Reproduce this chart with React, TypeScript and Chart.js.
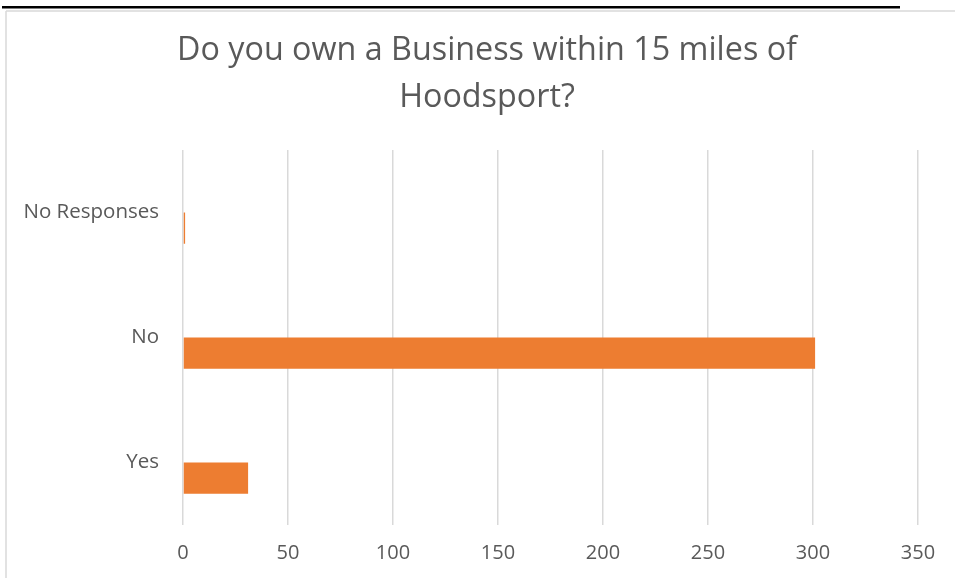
import React, { useEffect, useRef } from "react";
import { Chart, registerables } from "chart.js";

Chart.register(...registerables);

const categories = ["No Responses", "No", "Yes"];
const responses = [1, 301, 31];
const emptySeries = [null, null, null];
const xTicks = [0, 50, 100, 150, 200, 250, 300, 350];
const titleLines = ["Do you own a Business within 15 miles of", "Hoodsport?"];

const FONT = "'Open Sans', 'Noto Sans', sans-serif";
const TEXT = "#595959";

const framePlugin = {
  id: "frame",
  beforeDraw(chart: any) {
    const ctx = chart.ctx;
    ctx.save();
    ctx.fillStyle = "#ffffff";
    ctx.fillRect(0, 0, chart.width, chart.height);
    ctx.strokeStyle = "#d9d9d9";
    ctx.lineWidth = 1.5;
    ctx.beginPath();
    ctx.moveTo(6, 11);
    ctx.lineTo(chart.width, 11);
    ctx.moveTo(6, 11);
    ctx.lineTo(6, chart.height);
    ctx.stroke();
    ctx.fillStyle = "#000000";
    ctx.fillRect(2, 6, 898, 2.5);
    ctx.restore();
  },
  afterDraw(chart: any) {
    const ctx = chart.ctx;
    ctx.save();
    ctx.fillStyle = TEXT;
    ctx.font = `32.3px ${FONT}`;
    ctx.textAlign = "center";
    ctx.textBaseline = "middle";
    const ys = [51, 98];
    titleLines.forEach((t, i) => ctx.fillText(t, 487, ys[i]));
    ctx.restore();
  },
};

export default function App() {
  const ref = useRef<HTMLCanvasElement | null>(null);
  useEffect(() => {
    if (!ref.current) return;
    const chart = new Chart(ref.current, {
      type: "bar",
      data: {
        labels: categories,
        datasets: [
          { label: "blank", data: emptySeries as any, backgroundColor: "#ED7D31" },
          { label: "Responses", data: responses, backgroundColor: "#ED7D31" },
        ],
      },
      options: {
        indexAxis: "y",
        animation: false,
        responsive: false,
        maintainAspectRatio: false,
        layout: { padding: { left: 0, right: 37, top: 150, bottom: 0 } },
        datasets: { bar: { categoryPercentage: 0.5, barPercentage: 1 } } as any,
        plugins: {
          legend: { display: false },
          tooltip: { enabled: false },
          title: { display: false },
        },
        scales: {
          x: {
            min: 0,
            max: 350,
            ticks: {
              stepSize: 50,
              color: TEXT,
              font: { family: FONT, size: 20 },
              padding: 16,
              callback: (v: any) => (xTicks.includes(Number(v)) ? String(v) : ""),
            },
            grid: { color: "#d9d9d9", lineWidth: 1.5, drawTicks: false },
            border: { display: false },
            afterFit: (s: any) => { s.height = 53; },
          },
          y: {
            ticks: { color: TEXT, font: { family: FONT, size: 20.5 }, padding: 16 },
            grid: { display: false },
            border: { display: false },
            afterFit: (s: any) => { s.width = 183; },
          },
        },
      },
      plugins: [framePlugin],
    });
    return () => chart.destroy();
  }, []);
  return (
    <div style={{ position: "fixed", left: 0, top: 0, width: 955, height: 578 }}>
      <canvas ref={ref} width={955} height={578} style={{ width: 955, height: 578 }} />
    </div>
  );
}
